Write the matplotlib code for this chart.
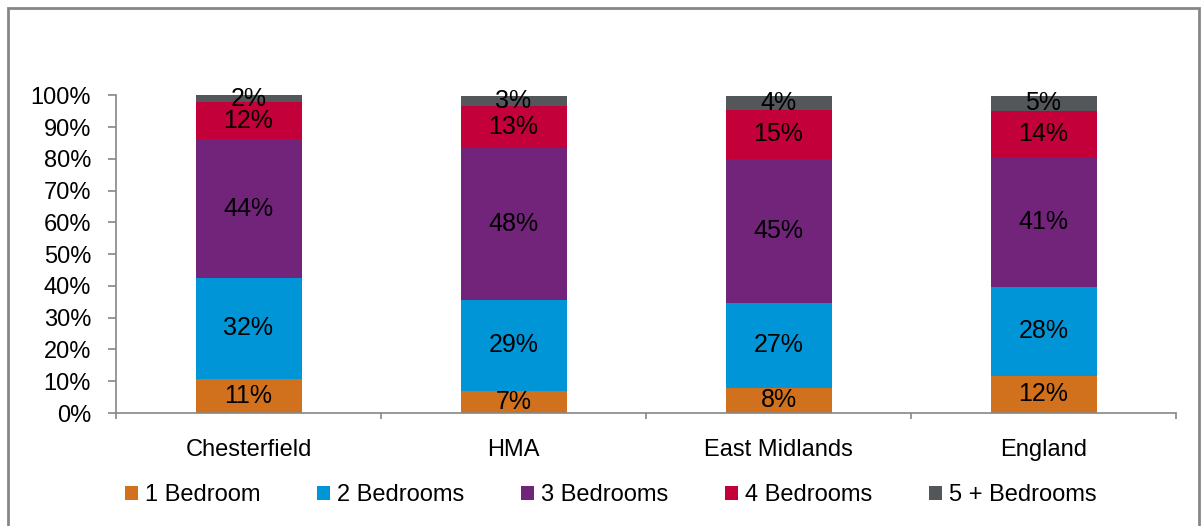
""" Bedroom size mix by area, stacked bar chart """

import matplotlib
matplotlib.use('Agg')
import matplotlib.pyplot as plt
from matplotlib.patches import Rectangle

plt.rcParams['font.family'] = ['Liberation Sans', 'DejaVu Sans']

areas = ['Chesterfield', 'HMA', 'East Midlands', 'England']
series = ['1 Bedroom', '2 Bedrooms', '3 Bedrooms', '4 Bedrooms', '5 + Bedrooms']

one_bed = [10.7, 7.0, 8.0, 11.7]
two_bed = [31.8, 28.7, 26.7, 28.0]
three_bed = [43.6, 47.6, 45.4, 40.9]
four_bed = [11.8, 13.4, 15.3, 14.4]
five_bed = [2.1, 3.2, 4.4, 4.9]

colours = ['#D1711E', '#0095D7', '#71247A', '#C3003A', '#53575A']
grey = '#868686'
fs = 17

fig = plt.figure(figsize=(12.03, 5.26), dpi=100)
ax = fig.add_axes([116 / 1203, 1 - 413 / 526, 1060 / 1203, (413 - 95.3) / 526])

x = list(range(len(areas)))
bottoms = [0.0] * len(areas)
for name, vals, col in zip(series, [one_bed, two_bed, three_bed, four_bed, five_bed], colours):
    bars = ax.bar(x, vals, width=0.4, bottom=bottoms, color=col, label=name)
    for i, v in enumerate(vals):
        ax.text(x[i], bottoms[i] + v / 2, '%d%%' % round(v), ha='center', va='center',
                fontsize=fs + 1, color='black')
    bottoms = [b + v for b, v in zip(bottoms, vals)]

ax.set_xlim(-0.5, len(areas) - 0.5)
ax.set_ylim(0, 100)
ax.set_yticks(range(0, 101, 10))
ax.set_yticklabels(['%d%%' % t for t in range(0, 101, 10)], fontsize=fs)
ax.set_xticks(x)
ax.set_xticklabels(areas, fontsize=fs)
ax.set_xticks([i - 0.5 for i in range(len(areas) + 1)], minor=True)
ax.tick_params(axis='x', which='major', length=0, pad=19)
ax.tick_params(axis='x', which='minor', length=4, color=grey, width=1.2)
ax.tick_params(axis='y', length=6, color=grey, width=1.2, pad=12)

for s in ['top', 'right']:
    ax.spines[s].set_visible(False)
for s in ['left', 'bottom']:
    ax.spines[s].set_color(grey)
    ax.spines[s].set_linewidth(1.2)

fig.legend(loc='center', bbox_to_anchor=(0.508, 1 - 495 / 526), ncol=5, frameon=False,
           fontsize=fs, handlelength=0.55, handleheight=0.55, handletextpad=0.3,
           columnspacing=2.4)

# outer chart frame, bottom edge runs off the image
frame = Rectangle((8 / 1203, -0.1), (1199 - 8) / 1203, 1.1 - 8 / 526, transform=fig.transFigure,
                  fill=False, edgecolor=grey, linewidth=2, clip_on=False)
fig.patches.append(frame)

fig.savefig('out.png', dpi=100)
